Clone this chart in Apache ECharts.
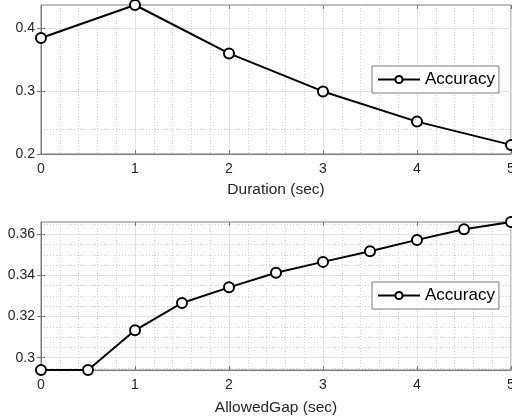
<!DOCTYPE html>
<html>
<head>
<meta charset="utf-8">
<script src="https://cdn.jsdelivr.net/npm/echarts@6/dist/echarts.min.js"></script>
<style>
  html, body { margin: 0; padding: 0; background: #fff; }
  #myChart { width: 512px; height: 418px; }
</style>
</head>
<body>
<div id="myChart"></div>
<script>
// top panel: accuracy vs duration
var duration = [0, 1, 2, 3, 4, 5];
var durationAcc = [0.3845, 0.437, 0.360, 0.2995, 0.2515, 0.2145];
// bottom panel: accuracy vs allowed gap
var allowedGap = [0, 0.5, 1, 1.5, 2, 2.5, 3, 3.5, 4, 4.5, 5];
var gapAcc = [0.294, 0.294, 0.3133, 0.3266, 0.3342, 0.3413, 0.3466, 0.3518, 0.3573, 0.3625, 0.366];

// tick labels
var xTicks = [0, 1, 2, 3, 4, 5];
var topYTicks = [0.2, 0.3, 0.4];
var bottomYTicks = [0.30, 0.32, 0.34, 0.36];

var FONT = "'Liberation Sans', Arial, sans-serif";
var TEXT = '#262626';
var FRAME = '#7a7a7a';

// minor grid positions between major ticks (grid only, not data)
function minors(major, parts, lo, hi) {
  var out = [];
  var step = (major[1] - major[0]) / parts;
  for (var v = major[0] - step * parts; v <= major[major.length - 1] + step * parts + 1e-9; v += step) {
    var r = Math.round(v * 100000) / 100000;
    var isMajor = major.some(function (m) { return Math.abs(m - r) < 1e-9; });
    if (!isMajor && r > lo && r < hi) out.push(r);
  }
  return out;
}

function zip(xs, ys) {
  return xs.map(function (x, i) { return [x, ys[i]]; });
}

function majorX(grid, name, gap) {
  return {
    type: 'value', gridIndex: grid, min: 0, max: 5, position: 'bottom',
    name: name, nameLocation: 'middle', nameGap: gap,
    nameTextStyle: { color: TEXT, fontSize: 15.5, fontFamily: FONT },
    axisLine: { show: true, lineStyle: { color: FRAME } },
    axisTick: { show: true, inside: true, length: 4, lineStyle: { color: FRAME }, customValues: xTicks },
    axisLabel: { color: TEXT, fontSize: 14, fontFamily: FONT, margin: 8, customValues: xTicks, hideOverlap: false },
    splitLine: { show: true, lineStyle: { color: '#e3e3e3', width: 1 } }
  };
}
function minorX(grid) {
  return {
    type: 'value', gridIndex: grid, min: 0, max: 5, position: 'top',
    axisLine: { show: false }, axisLabel: { show: false },
    axisTick: { show: false, customValues: minors(xTicks, 5, 0, 5) },
    splitLine: { show: true, lineStyle: { color: '#d2d2d2', width: 1, type: [1, 2] } }
  };
}
// opposite-side (top) ticks, like a boxed axes
function topX(grid) {
  return {
    type: 'value', gridIndex: grid, min: 0, max: 5, position: 'top',
    axisLine: { show: false }, axisLabel: { show: false }, splitLine: { show: false },
    axisTick: { show: true, inside: true, length: 4, lineStyle: { color: FRAME }, customValues: xTicks }
  };
}
function majorY(grid, ticks, lo, hi) {
  return {
    type: 'value', gridIndex: grid, min: lo, max: hi, position: 'left',
    axisLine: { show: true, lineStyle: { color: FRAME } },
    axisTick: { show: true, inside: true, length: 4, lineStyle: { color: FRAME }, customValues: ticks },
    axisLabel: { color: TEXT, fontSize: 14, fontFamily: FONT, margin: 6, customValues: ticks },
    splitLine: { show: true, lineStyle: { color: '#e3e3e3', width: 1 } }
  };
}
function minorY(grid, ticks, parts, lo, hi) {
  return {
    type: 'value', gridIndex: grid, min: lo, max: hi, position: 'right',
    axisLine: { show: false }, axisLabel: { show: false },
    axisTick: { show: false, customValues: minors(ticks, parts, lo, hi) },
    splitLine: { show: true, lineStyle: { color: '#d2d2d2', width: 1, type: [1, 2] } }
  };
}
function rightY(grid, ticks, lo, hi) {
  return {
    type: 'value', gridIndex: grid, min: lo, max: hi, position: 'right',
    axisLine: { show: false }, axisLabel: { show: false }, splitLine: { show: false },
    axisTick: { show: true, inside: true, length: 4, lineStyle: { color: FRAME }, customValues: ticks }
  };
}

function series(name, xi, yi, data) {
  return {
    name: name, type: 'line', xAxisIndex: xi, yAxisIndex: yi,
    data: data, symbol: 'circle', symbolSize: 10, showSymbol: true,
    lineStyle: { color: '#000', width: 2 },
    itemStyle: { color: '#fff', borderColor: '#000', borderWidth: 2 },
    z: 5
  };
}

function legend(top) {
  return {
    data: ['Accuracy'], left: 372, top: top, orient: 'horizontal',
    backgroundColor: '#fff', borderColor: FRAME, borderWidth: 1,
    padding: [5, 4, 5, 5], itemWidth: 42, itemHeight: 9,
    textStyle: { color: '#000', fontSize: 17, fontFamily: FONT },
    selectedMode: false
  };
}

var myChart = echarts.init(document.getElementById('myChart'), null, { renderer: 'canvas' });
myChart.setOption({
  animation: false,
  backgroundColor: '#fff',
  grid: [
    { left: 41, right: 1, top: 5, height: 149, outerBoundsMode: 'none', show: true, borderColor: FRAME, borderWidth: 1, backgroundColor: '#fff' },
    { left: 41, right: 1, top: 222, height: 148, outerBoundsMode: 'none', show: true, borderColor: FRAME, borderWidth: 1, backgroundColor: '#fff' }
  ],
  xAxis: [
    majorX(0, 'Duration (sec)', 28), minorX(0), topX(0),
    majorX(1, 'AllowedGap (sec)', 30), minorX(1), topX(1)
  ],
  yAxis: [
    majorY(0, topYTicks, 0.2, 0.437), minorY(0, [0.2, 0.22], 1, 0.2, 0.437), rightY(0, topYTicks, 0.2, 0.437),
    majorY(1, bottomYTicks, 0.294, 0.366), minorY(1, bottomYTicks, 4, 0.294, 0.366), rightY(1, bottomYTicks, 0.294, 0.366)
  ],
  legend: [legend(66), legend(282)],
  series: [
    series('Accuracy', 0, 0, zip(duration, durationAcc)),
    series('Accuracy', 3, 3, zip(allowedGap, gapAcc))
  ]
});
</script>
</body>
</html>
